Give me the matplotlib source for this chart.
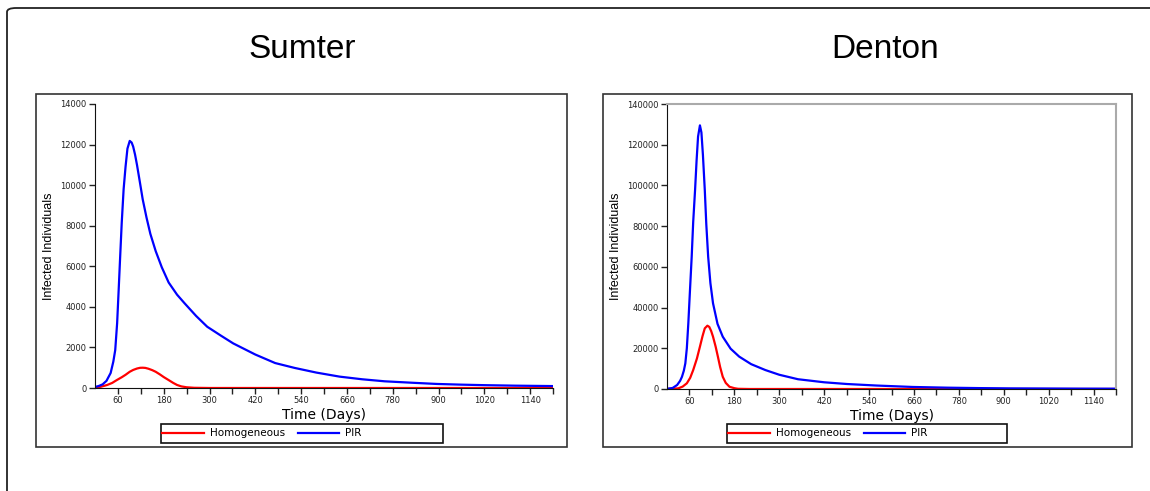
import numpy as np
import matplotlib
matplotlib.use("Agg")
import matplotlib.pyplot as plt
from matplotlib.patches import Rectangle, FancyBboxPatch
from matplotlib.lines import Line2D

# Sumter county
sumter_pir_days = [0, 10, 20, 30, 41, 48, 53, 58, 62, 66, 70, 75, 80, 85, 91, 96, 100, 105, 110, 118, 125, 135, 145, 159,
                   175, 193, 215, 235, 265, 294, 330, 362, 420, 472, 523, 580, 641, 700, 759, 830, 895, 960, 1020, 1100, 1200]
sumter_pir = [50, 100, 180, 350, 740, 1300, 1870, 3200, 4830, 6500, 8130, 9800, 10900, 11800, 12180, 12100, 11900, 11500,
              11000, 10100, 9300, 8400, 7600, 6750, 5950, 5200, 4600, 4170, 3550, 3020, 2580, 2200, 1650, 1230, 990, 760,
              560, 430, 330, 260, 200, 165, 140, 115, 95]
sumter_hom_days = [0, 15, 32, 45, 57, 70, 80, 91, 100, 110, 118, 125, 132, 140, 150, 159, 170, 180, 193, 205, 215, 226,
                   240, 260, 300, 1200]
sumter_hom = [20, 60, 150, 250, 390, 530, 650, 800, 890, 960, 995, 1000, 990, 950, 880, 800, 670, 540, 390, 250, 150, 80,
              35, 10, 0, 0]

# Denton county
denton_pir_days = [0, 15, 27, 35, 40, 45, 49, 53, 57, 61, 66, 70, 75, 79, 83, 88, 92, 96, 101, 105, 110, 116, 123, 135,
                   149, 170, 193, 225, 263, 300, 350, 420, 481, 560, 657, 750, 831, 920, 1000, 1100, 1200]
denton_pir = [100, 500, 1960, 4000, 6000, 9000, 12600, 20000, 32300, 47000, 65000, 82000, 97700, 112000, 124000, 129500,
              126000, 115000, 97700, 81000, 65000, 52000, 42100, 32000, 25700, 19800, 15900, 12200, 9300, 7000, 4800,
              3300, 2450, 1700, 1000, 650, 450, 300, 250, 180, 150]
denton_hom_days = [0, 30, 42, 53, 62, 70, 80, 88, 95, 101, 108, 113, 118, 123, 130, 136, 142, 149, 157, 167, 180, 190,
                   220, 1200]
denton_hom = [0, 300, 1200, 2800, 5500, 9300, 15000, 20800, 26000, 29800, 31100, 30500, 28500, 25700, 20800, 15900,
              10800, 6000, 3000, 1100, 400, 100, 0, 0]

titles = ["Sumter", "Denton"]
ymaxes = [14000, 140000]
xticks = list(range(60, 1200, 120))

W, H = 1150, 491
fig = plt.figure(figsize=(W / 100, H / 100), dpi=100)
narrow = ["Liberation Sans Narrow", "Liberation Sans", "DejaVu Sans"]


def px(x, y, w, h):
    # pixel box (from top-left) -> figure fraction
    return [x / W, 1 - (y + h) / H, w / W, h / H]


# outer frame, runs off the right and bottom edges
frame = FancyBboxPatch((7 / W, -0.05), 1.05, 1 - 8 / H + 0.05, boxstyle="round,pad=0,rounding_size=0.008",
                       transform=fig.transFigure, fill=False, ec="#222222", lw=1.3)
fig.patches.append(frame)

panels = [
    dict(box=(36, 94, 531, 353), ax=(95, 104, 458, 284), leg=(161, 424, 282, 19), tx=302),
    dict(box=(603, 94, 529, 353), ax=(667, 104, 449, 285), leg=(727, 424, 280, 19), tx=885),
]
data = [
    (sumter_hom_days, sumter_hom, sumter_pir_days, sumter_pir),
    (denton_hom_days, denton_hom, denton_pir_days, denton_pir),
]

for i, p in enumerate(panels):
    bx, by, bw, bh = p["box"]
    fig.patches.append(Rectangle(px(bx, by, bw, bh)[:2], bw / W, bh / H, transform=fig.transFigure,
                                 fill=False, ec="#333333", lw=1.2))
    fig.text(p["tx"] / W, 1 - 49 / H, titles[i], ha="center", va="center", fontsize=24, family=narrow)

    ax = fig.add_axes(px(*p["ax"]))
    hd, hv, pd_, pv = data[i]
    ax.plot(hd, hv, color="#ff0000", lw=1.6, label="Homogeneous")
    ax.plot(pd_, pv, color="#0000ff", lw=1.6, label="PIR")
    ax.set_xlim(0, 1200)
    ax.set_ylim(0, ymaxes[i])
    ax.set_xticks(xticks)
    ax.set_xticks(list(range(120, 1201, 120)), minor=True)
    ax.set_yticks(np.arange(0, ymaxes[i] + 1, ymaxes[i] / 7))
    ax.yaxis.set_major_formatter(matplotlib.ticker.FormatStrFormatter("%d"))
    ax.tick_params(which="both", direction="out", length=4, width=1, labelsize=6, colors="#222222", pad=2)
    ax.set_xlabel("Time (Days)", fontsize=10, labelpad=2)
    ax.set_ylabel("Infected Individuals", fontsize=9, family=narrow, labelpad=4)
    for s in ["left", "bottom"]:
        ax.spines[s].set_color("#111111")
    if i == 0:
        ax.spines["top"].set_visible(False)
        ax.spines["right"].set_visible(False)
    else:
        ax.spines["top"].set_color("#aaaaaa")
        ax.spines["right"].set_color("#aaaaaa")
        ax.spines["top"].set_linewidth(1.5)
        ax.spines["right"].set_linewidth(1.5)

    lx, ly, lw_, lh = p["leg"]
    fig.patches.append(Rectangle(px(lx, ly, lw_, lh)[:2], lw_ / W, lh / H, transform=fig.transFigure,
                                 fill=False, ec="#111111", lw=1.2))
    handles = [Line2D([], [], color="#ff0000", lw=1.6), Line2D([], [], color="#0000ff", lw=1.6)]
    fig.legend(handles, ["Homogeneous", "PIR"], ncol=2, frameon=False, fontsize=7.5,
               loc="center left", bbox_to_anchor=((lx + 1) / W, 1 - (ly + lh / 2) / H),
               handlelength=4, handletextpad=0.6, columnspacing=1.2, borderaxespad=0, borderpad=0)

fig.savefig("out.png", dpi=100)
